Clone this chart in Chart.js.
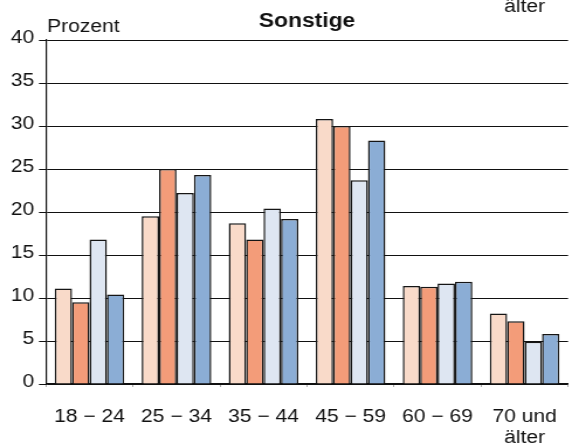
<!DOCTYPE html>
<html>
<head>
<meta charset="utf-8">
<script src="https://cdn.jsdelivr.net/npm/chart.js@4.4.0/dist/chart.umd.min.js"></script>
<style>
  html, body { margin: 0; padding: 0; background: #fff; overflow: hidden; }
  /* the reference is a little wider than tall in its lettering, so the whole chart is stretched sideways */
  #wrap { width: 495px; height: 446px; transform: scaleX(1.1697); transform-origin: 0 0; }
</style>
</head>
<body>
<div id="wrap"><canvas id="chart"></canvas></div>
<script>
// Data
const categories = ['18 − 24', '25 − 34', '35 − 44', '45 − 59', '60 − 69', ['70 und', 'älter']];
const series1 = [11.1, 19.5, 18.7, 30.8, 11.4, 8.2];
const series2 = [9.5, 25.0, 16.8, 30.0, 11.3, 7.3];
const series3 = [16.8, 22.2, 20.4, 23.7, 11.7, 4.9];
const series4 = [10.4, 24.3, 19.2, 28.3, 11.9, 5.8];
const yTicks = [0, 5, 10, 15, 20, 25, 30, 35, 40];

const chartTitle = 'Sonstige';
const yTitle = 'Prozent';
const strayText = 'älter';

const FONT = '"Liberation Sans", Arial, sans-serif';

// extra texts: title, unit label and the cut-off word at the top right
const textPlugin = {
    id: 'texts',
    afterDraw(chart) {
        const { ctx, chartArea } = chart;
        ctx.save();
        ctx.fillStyle = '#111';
        ctx.textBaseline = 'alphabetic';

        ctx.font = `bold 19.5px ${FONT}`;
        ctx.textAlign = 'center';
        ctx.fillText(chartTitle, (chartArea.left + chartArea.right) / 2, 27);

        ctx.font = `18px ${FONT}`;
        ctx.textAlign = 'left';
        ctx.fillText(yTitle, chartArea.left + 1, 32);

        ctx.textAlign = 'center';
        ctx.fillText(strayText, chart.scales.x.getPixelForValue(5), 12);
        ctx.restore();
    }
};

const barStyle = { borderColor: '#151515', borderWidth: 1.5 };

const ctx = document.getElementById('chart').getContext('2d');
new Chart(ctx, {
    type: 'bar',
    data: {
        labels: categories,
        datasets: [
            { label: 'Reihe 1', data: series1, backgroundColor: '#f9dac9', ...barStyle },
            { label: 'Reihe 2', data: series2, backgroundColor: '#f39c79', ...barStyle },
            { label: 'Reihe 3', data: series3, backgroundColor: '#dee6f2', ...barStyle },
            { label: 'Reihe 4', data: series4, backgroundColor: '#8badd5', ...barStyle }
        ]
    },
    options: {
        responsive: true,
        maintainAspectRatio: false,
        animation: false,
        categoryPercentage: 0.8,
        barPercentage: 1.0,
        layout: { padding: { top: 40, right: 0, bottom: 0, left: 0 } },
        plugins: {
            legend: { display: false },
            tooltip: { enabled: false }
        },
        scales: {
            x: {
                grid: { display: true, drawOnChartArea: false, drawTicks: true, tickLength: 3, color: '#aaa' },
                border: { display: true, color: '#111', width: 1.2 },
                ticks: {
                    color: '#111',
                    font: { family: FONT, size: 18, lineHeight: 1.18 },
                    padding: 19,
                    maxRotation: 0,
                    autoSkip: false
                },
                afterFit: (scale) => { scale.height = 62; }
            },
            y: {
                min: 0,
                max: 40,
                afterBuildTicks: (scale) => { scale.ticks = yTicks.map(v => ({ value: v })); },
                grid: { color: '#111', lineWidth: 1, drawTicks: true, tickLength: 6, tickColor: '#111' },
                border: { display: true, color: '#111', width: 1.2 },
                ticks: {
                    color: '#111',
                    font: { family: FONT, size: 18 },
                    padding: 4,
                    labelOffset: -1.5
                },
                afterFit: (scale) => { scale.width = 39.3; }
            }
        }
    },
    plugins: [textPlugin]
});
</script>
</body>
</html>
